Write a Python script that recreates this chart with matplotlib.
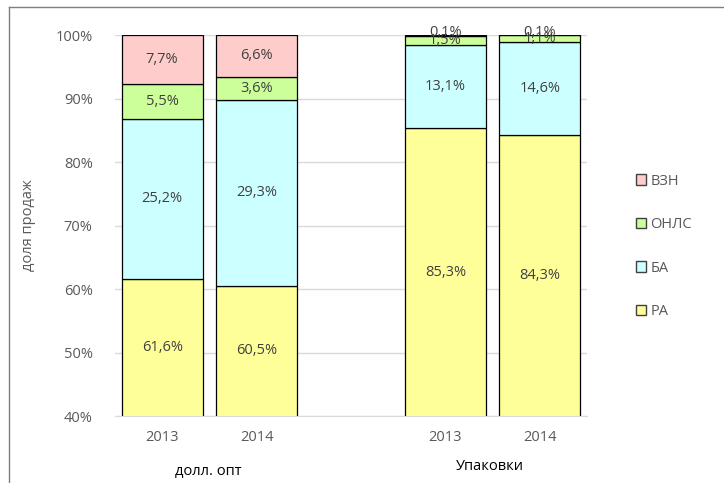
import matplotlib
matplotlib.use("Agg")
import matplotlib.pyplot as plt
from matplotlib.lines import Line2D
from matplotlib.patches import Patch
import numpy as np

plt.rcParams['font.family'] = ['Open Sans', 'DejaVu Sans']

# data
years = ["2013", "2014", "", "2013", "2014"]
groups = ["долл. опт", "Упаковки"]
series = ["РА", "БА", "ОНЛС", "ВЗН"]
ra = [61.6, 60.5, 0, 85.3, 84.3]
ba = [25.2, 29.3, 0, 13.1, 14.6]
onls = [5.5, 3.6, 0, 1.5, 1.1]
vzn = [7.7, 6.6, 0, 0.1, 0.1]
colors = ["#FFFF99", "#CCFFFF", "#CCFF99", "#FFCCCC"]
text_col = "#595959"
ymin = 40

fig = plt.figure(figsize=(7.24, 4.83), dpi=100)
ax = fig.add_axes([0.1588, 0.1387, 0.652, 0.7888])

x = np.arange(len(years))
bottom = np.zeros(len(years))
for name, vals, col in zip(series, [ra, ba, onls, vzn], colors):
    vals = np.array(vals)
    mask = vals > 0
    ax.bar(x[mask], vals[mask], 0.86, bottom=bottom[mask], color=col,
           edgecolor="black", linewidth=0.9, zorder=2, label=name)
    for xi, v, b in zip(x[mask], vals[mask], bottom[mask]):
        lo = max(b, ymin)
        yc = (lo + b + v) / 2
        if v < 1:
            yc += 0.4
        ax.text(xi, yc, f"{v:.1f}%".replace(".", ","),
                ha="center", va="center", fontsize=10.5, color="#404040", zorder=3)
    bottom = bottom + vals

ax.set_ylim(ymin, 100)
ax.set_xlim(-0.5, 4.5)
ax.set_yticks(range(40, 101, 10))
ax.set_yticklabels([f"{t}%" for t in range(40, 101, 10)], color=text_col, fontsize=10.5)
ax.set_xticks([0, 1, 3, 4])
ax.set_xticklabels(["2013", "2014", "2013", "2014"], color=text_col, fontsize=10.5)
ax.tick_params(axis="both", length=0)
ax.tick_params(axis="x", pad=10)
ax.tick_params(axis="y", pad=16)
ax.yaxis.grid(True, color="#D9D9D9", linewidth=1, zorder=0)
ax.set_axisbelow(True)
for s in ["top", "right", "left"]:
    ax.spines[s].set_visible(False)
ax.spines["bottom"].set_color("#D9D9D9")
ax.set_ylabel("доля продаж", color=text_col, fontsize=10.5, labelpad=14)

fig.text(208 / 724, 1 - 472 / 483, groups[0], ha="center", va="center",
         color="black", fontsize=10.5)
fig.text(490 / 724, 1 - 467 / 483, groups[1], ha="center", va="center",
         color="black", fontsize=10.5)

handles = [Patch(facecolor=c, edgecolor="#404040", label=n)
           for n, c in zip(series, colors)][::-1]
fig.legend(handles=handles, loc="center left", bbox_to_anchor=(0.86, 0.49),
           frameon=False, handlelength=0.7, handleheight=0.7, handletextpad=0.3,
           labelspacing=1.95, fontsize=10.5, labelcolor=text_col)

fig.add_artist(Line2D([9 / 724, 9 / 724], [0, 1 - 7 / 483], color="#7f7f7f", lw=1))
fig.add_artist(Line2D([9 / 724, 1], [1 - 7 / 483, 1 - 7 / 483], color="#7f7f7f", lw=1))

fig.savefig("out.png", dpi=100)
